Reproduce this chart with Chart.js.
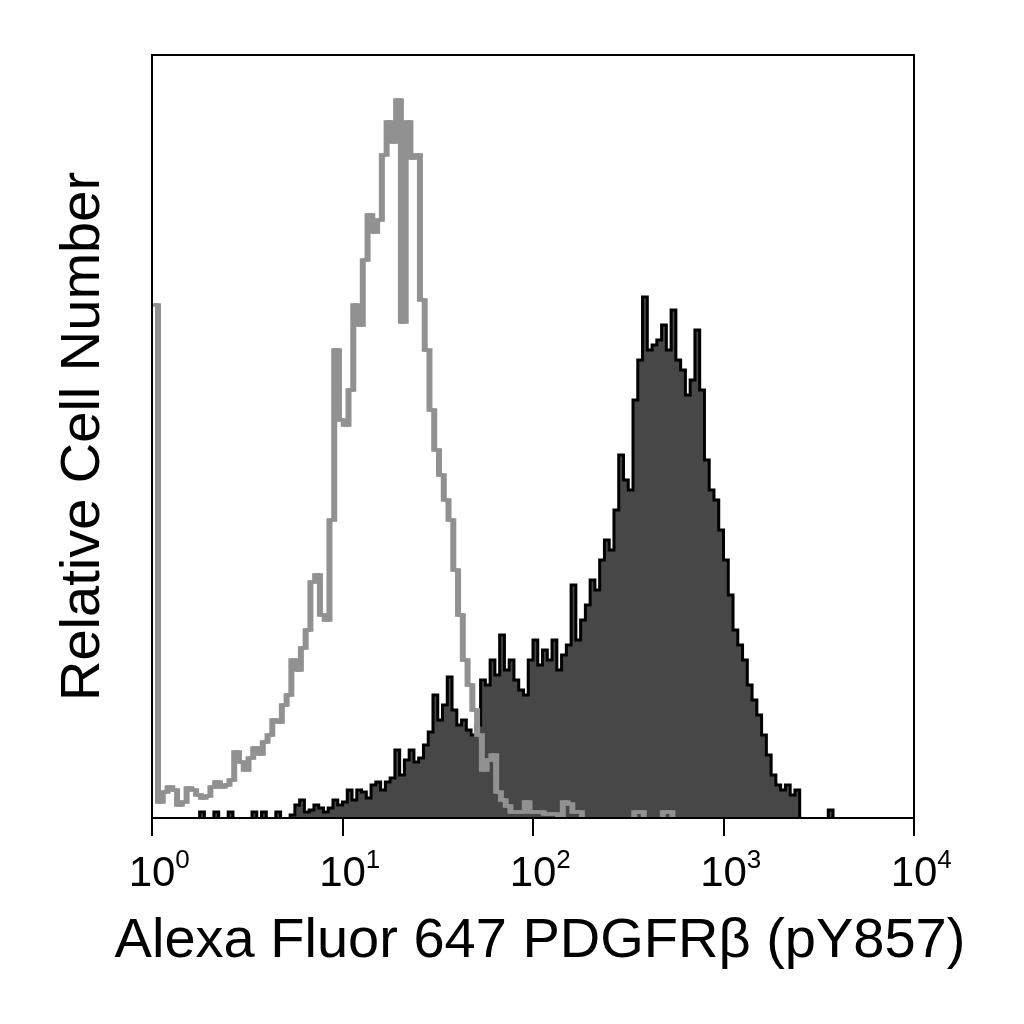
<!DOCTYPE html>
<html>
<head>
<meta charset="utf-8">
<script src="https://cdn.jsdelivr.net/npm/chart.js@4.4.1/dist/chart.umd.min.js"></script>
<style>
  html, body { margin: 0; padding: 0; background: #fff; }
  #wrap { width: 1024px; height: 1024px; }
</style>
</head>
<body>
<div id="wrap"><canvas id="chart" width="1024" height="1024"></canvas></div>
<script>
// ===================== DATA =====================
// log channels: 40 bins per decade, bin i starts at 10^(i/40)
const binsPerDecade = 40;

// isotype control (grey outline)
const isotypeCounts = [
  515, 18, 28, 33, 30, 15, 18, 32, 30, 25,
  22, 24, 33, 38, 33, 35, 40, 68, 58, 50,
  62, 72, 66, 78, 85, 100, 98, 115, 125, 160,
  150, 172, 190, 238, 245, 205, 200, 300, 470, 400,
  395, 430, 515, 495, 560, 605, 588, 600, 665, 698,
  678, 720, 498, 698, 662, 665, 520, 470, 410, 370,
  345, 320, 300, 250, 205, 160, 135, 110, 85, 50,
  60, 65, 28, 20, 14, 8, 8, 8, 18, 8,
  8, 8, 6, 6, 6, 0, 18, 16, 8, 8,
  0, 0, 0, 0, 0, 0, 0, 0, 0, 0,
  0, 8, 8, 0, 0, 0, 0, 8, 8
];

// PDGFRb (pY857) stained (dark filled)
const stainedCounts = [
  0, 0, 0, 0, 0, 0, 0, 0, 0, 0,
  8, 0, 0, 8, 0, 0, 8, 0, 0, 0,
  0, 8, 0, 8, 0, 0, 8, 0, 0, 5,
  15, 20, 8, 10, 15, 12, 8, 12, 20, 15,
  18, 30, 20, 30, 28, 22, 35, 38, 30, 38,
  42, 70, 45, 60, 70, 58, 62, 75, 88, 125,
  100, 115, 143, 110, 95, 100, 90, 85, 95, 140,
  135, 160, 145, 185, 150, 160, 140, 130, 125, 160,
  180, 155, 170, 160, 180, 150, 165, 175, 235, 180,
  200, 215, 240, 230, 260, 280, 270, 310, 365, 340,
  330, 420, 460, 523, 470, 475, 480, 495, 470, 510,
  460, 450, 425, 440, 490, 430, 360, 330, 320, 290,
  260, 225, 190, 175, 160, 135, 120, 105, 85, 65,
  45, 35, 30, 35, 25, 30, 0, 0, 0, 0,
  0, 0, 10
];

const tickValues = [1, 10, 100, 1000, 10000];
const tickBase = "10";
const tickExponents = ["0", "1", "2", "3", "4"];

const xTitle = "Alexa Fluor 647 PDGFR\u03b2 (pY857)";
const yTitle = "Relative Cell Number";

// ===================== HELPERS =====================
// turn bin counts into step points (value holds until next bin start)
function toSteps(counts) {
  const pts = counts.map((c, i) => ({ x: Math.pow(10, i / binsPerDecade), y: c }));
  pts.push({ x: Math.pow(10, counts.length / binsPerDecade), y: 0 });
  return pts;
}

// the cytometer software draws the outline with a wide, flat pen:
// repeat the grey line a few px to the right so the risers get thicker
const penPlugin = {
  id: "pen",
  afterDatasetsDraw(chart) {
    const a = chart.chartArea;
    const ctx = chart.ctx;
    const line = chart.getDatasetMeta(0).dataset;
    ctx.save();
    ctx.beginPath();
    ctx.rect(a.left, a.top, a.right - a.left, a.bottom - a.top);
    ctx.clip();
    ctx.translate(2.5, 0);
    line.draw(ctx, a);
    ctx.restore();
  }
};

// plot frame on all four sides
const framePlugin = {
  id: "frame",
  afterDatasetsDraw(chart) {
    const a = chart.chartArea;
    const ctx = chart.ctx;
    ctx.save();
    ctx.strokeStyle = "#000";
    ctx.lineWidth = 2;
    ctx.strokeRect(a.left, a.top, a.right - a.left, a.bottom - a.top);
    ctx.restore();
  }
};

// exponents next to the "10" tick labels, and the x title
// (the built-in title is squeezed to the axis width, this one is not)
const textPlugin = {
  id: "texts",
  afterDraw(chart) {
    const x = chart.scales.x;
    const ctx = chart.ctx;
    ctx.save();
    ctx.fillStyle = "#000";
    ctx.font = "42px 'Liberation Sans'";
    const half = ctx.measureText(tickBase).width / 2;
    ctx.font = "26px 'Liberation Sans'";
    ctx.textAlign = "left";
    ctx.textBaseline = "alphabetic";
    tickValues.forEach((v, i) => {
      ctx.fillText(tickExponents[i], x.getPixelForValue(v) + half, 868);
    });
    ctx.font = "56px 'Liberation Sans'";
    ctx.textAlign = "center";
    ctx.fillText(xTitle, (x.left + x.right) / 2 + 7, 957);
    ctx.restore();
  }
};

// ===================== CHART =====================
new Chart(document.getElementById("chart"), {
  type: "line",
  data: {
    datasets: [
      {
        label: "Isotype",
        data: toSteps(isotypeCounts),
        stepped: true,
        borderColor: "#919191",
        borderWidth: 3.5,
        fill: false,
        pointRadius: 0,
        clip: 0,
        order: 0
      },
      {
        label: "PDGFRb (pY857)",
        data: toSteps(stainedCounts),
        stepped: true,
        borderColor: "#000",
        borderWidth: 3,
        backgroundColor: "#474747",
        fill: "origin",
        pointRadius: 0,
        clip: 0,
        order: 1
      }
    ]
  },
  options: {
    responsive: false,
    animation: false,
    devicePixelRatio: 1,
    layout: { padding: { left: 0, top: 55, right: 110, bottom: 0 } },
    plugins: { legend: { display: false }, tooltip: { enabled: false } },
    scales: {
      x: {
        type: "logarithmic",
        min: 1,
        max: 10000,
        afterBuildTicks: s => { s.ticks = tickValues.map(v => ({ value: v })); },
        afterFit: s => { s.height = 206; },
        ticks: {
          autoSkip: false,
          maxRotation: 0,
          padding: 13,
          color: "#000",
          font: { family: "Liberation Sans", size: 42 },
          callback: () => tickBase
        },
        grid: { drawOnChartArea: false, drawTicks: true, tickLength: 18, color: "#000", lineWidth: 2 },
        border: { display: true, color: "#000", width: 2 },
        title: { display: false }
      },
      y: {
        min: 2,
        max: 765,
        afterFit: s => { s.width = 152; },
        ticks: { display: false },
        grid: { display: false },
        border: { display: false },
        title: {
          display: true,
          text: yTitle,
          color: "#000",
          font: { family: "Liberation Sans", size: 56 },
          padding: { top: 50, bottom: 0 }
        }
      }
    }
  },
  plugins: [penPlugin, framePlugin, textPlugin]
});
</script>
</body>
</html>
